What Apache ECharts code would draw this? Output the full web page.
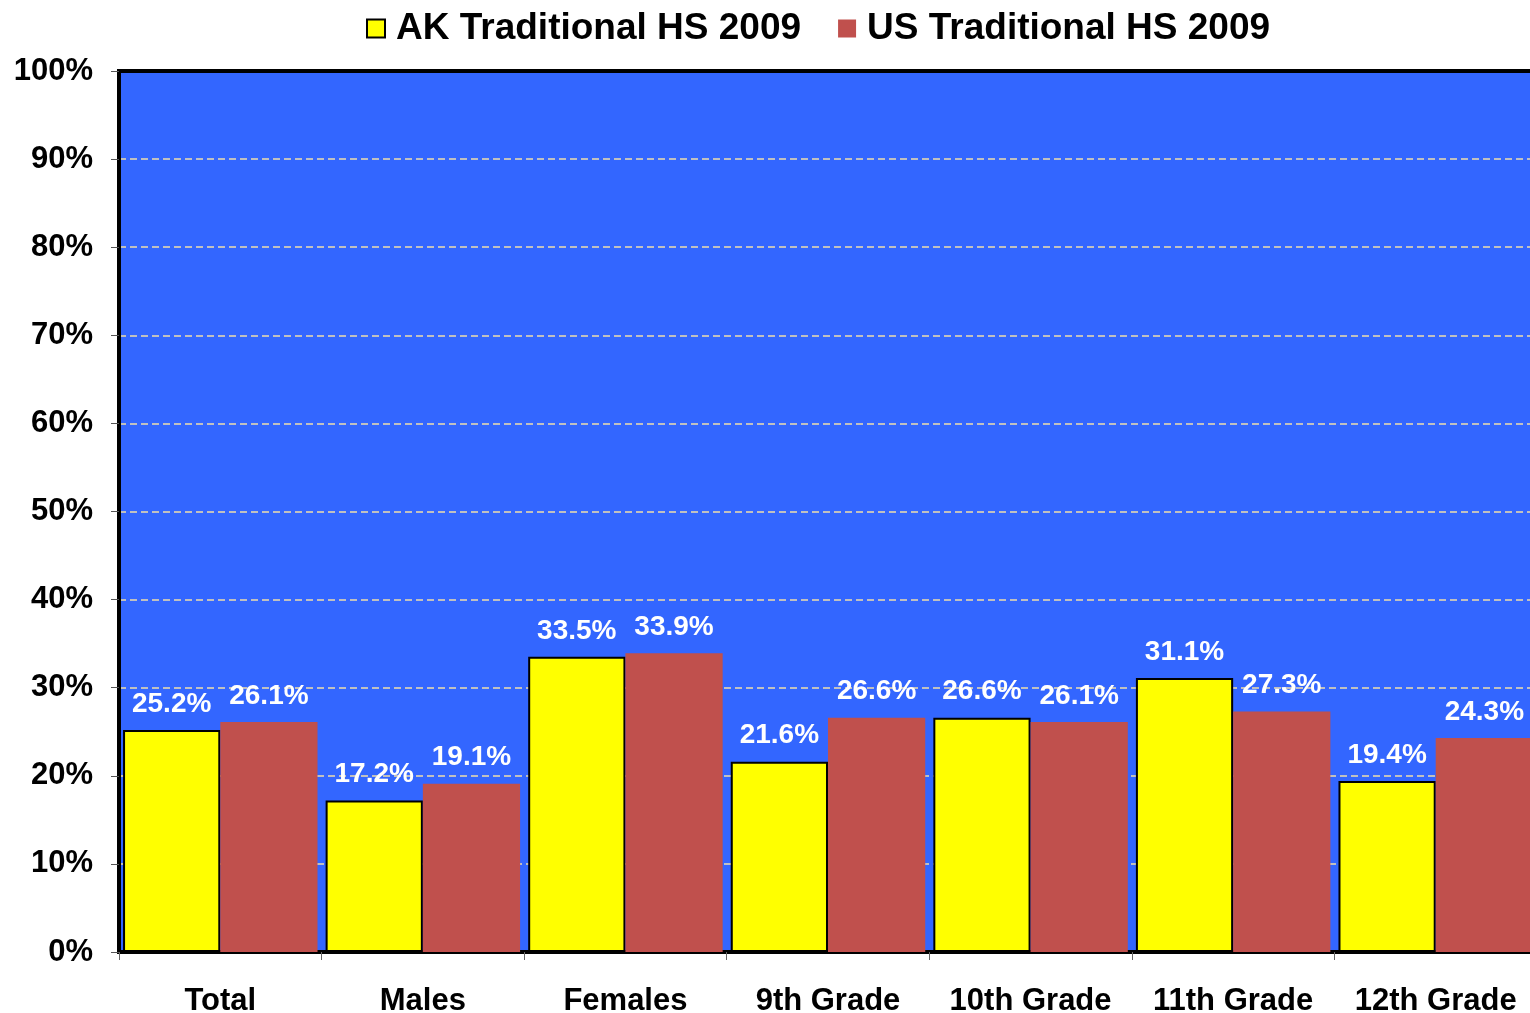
<!DOCTYPE html>
<html>
<head>
<meta charset="utf-8">
<script src="https://cdn.jsdelivr.net/npm/echarts@6/dist/echarts.min.js"></script>
<style>
  html, body { margin: 0; padding: 0; background: #fff; overflow: hidden; }
  #chart { width: 1530px; height: 1013px; }
</style>
</head>
<body>
<div id="chart"></div>
<script>
// data
var categories = ['Total', 'Males', 'Females', '9th Grade', '10th Grade', '11th Grade', '12th Grade'];
var akValues = [25.2, 17.2, 33.5, 21.6, 26.6, 31.1, 19.4];
var usValues = [26.1, 19.1, 33.9, 26.6, 26.1, 27.3, 24.3];
var seriesNames = ['AK Traditional HS 2009', 'US Traditional HS 2009'];

var font = '"Liberation Sans", Arial, sans-serif';

var myChart = echarts.init(document.getElementById('chart'));

var labelStyle = {
    show: true,
    position: 'top',
    distance: 12,
    color: '#ffffff',
    fontFamily: font,
    fontWeight: 'bold',
    fontSize: 28,
    formatter: function (p) { return p.value.toFixed(1) + '%'; }
};

var option = {
    animation: false,
    backgroundColor: '#ffffff',
    legend: {
        top: 5,
        left: 361,
        itemWidth: 18,
        itemHeight: 18,
        itemGap: 37,
        icon: 'rect',
        textStyle: {
            fontFamily: font,
            fontWeight: 'bold',
            fontSize: 37,
            color: '#000',
            padding: [0, 0, 0, 6]
        },
        data: seriesNames
    },
    grid: {
        left: 119,
        width: 1418,   // plot runs past the right edge of the picture
        top: 71,
        bottom: 61,
        outerBoundsMode: 'none',
        containLabel: false,
        show: true,
        backgroundColor: '#3366FF',
        borderColor: '#000',
        borderWidth: 4
    },
    xAxis: [
        {
            type: 'category',
            data: categories,
            axisLine: { show: true, lineStyle: { color: '#000', width: 4 } },
            axisTick: { show: true, length: 8, lineStyle: { color: '#666', width: 1 } },
            axisLabel: {
                interval: 0,
                margin: 34,
                color: '#000',
                fontFamily: font,
                fontWeight: 'bold',
                fontSize: 31
            }
        },
        {
            // top frame line drawn over the 100% grid line
            type: 'category',
            position: 'top',
            data: categories,
            axisLine: { show: true, lineStyle: { color: '#000', width: 4 } },
            axisTick: { show: false },
            axisLabel: { show: false },
            splitLine: { show: false }
        }
    ],
    yAxis: {
        type: 'value',
        min: 0,
        max: 100,
        interval: 10,
        axisLine: { show: true, lineStyle: { color: '#000', width: 4 } },
        axisTick: { show: true, length: 8, lineStyle: { color: '#555', width: 1 } },
        axisLabel: {
            margin: 26,
            color: '#000',
            fontFamily: font,
            fontWeight: 'bold',
            fontSize: 31,
            formatter: '{value}%'
        },
        splitLine: {
            show: true,
            lineStyle: { color: '#c0c0c0', width: 2, type: [7, 4] }
        }
    },
    series: [
        {
            name: seriesNames[0],
            type: 'bar',
            data: akValues,
            barGap: '0%',
            barCategoryGap: '4%',
            itemStyle: { color: '#FFFF00', borderColor: '#000', borderWidth: 2 },
            label: labelStyle
        },
        {
            name: seriesNames[1],
            type: 'bar',
            data: usValues,
            itemStyle: { color: '#C0504D', borderWidth: 0 },
            label: labelStyle
        }
    ]
};

myChart.setOption(option);
</script>
</body>
</html>
